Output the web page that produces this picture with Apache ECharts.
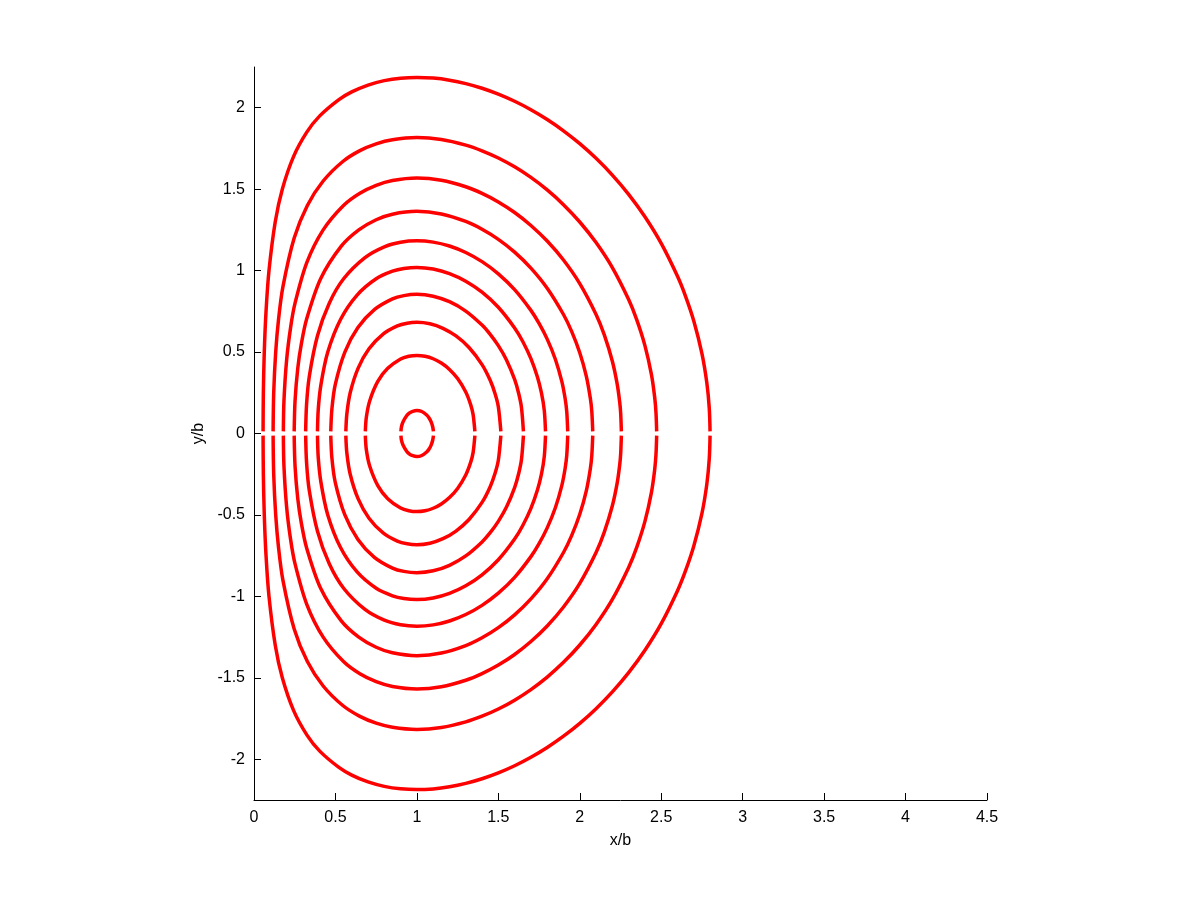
<!DOCTYPE html>
<html><head><meta charset="utf-8">
<script src="https://cdn.jsdelivr.net/npm/echarts@6/dist/echarts.min.js"></script>
<style>html,body{margin:0;padding:0;background:#fff}#c{width:1200px;height:900px}</style>
</head><body><div id="c"></div>
<script>
// tick labels
const xTicks = [0, 0.5, 1, 1.5, 2, 2.5, 3, 3.5, 4, 4.5];
const yTicks = [-2, -1.5, -1, -0.5, 0, 0.5, 1, 1.5, 2];

// upper halves of the closed contours, [x/b, y/b] (outermost first)
const c1 = [[0.0557,0.013],[0.0574,0.25],[0.0631,0.5],[0.0739,0.75],[0.0920,1.0],[0.1305,1.3],[0.1738,1.5],[0.2427,1.7],[0.3242,1.85],[0.4036,1.95],[0.5213,2.05],[0.6,2.0972],[0.7,2.1393],[0.8,2.1665],[0.9,2.1816],[1.0,2.1863],[1.1,2.1819],[1.2,2.169],[1.3,2.1482],[1.4,2.1197],[1.5,2.0835],[1.6,2.0396],[1.7,1.9878],[1.8,1.9276],[1.9,1.8584],[2.0,1.7794],[2.1,1.6893],[2.2,1.5865],[2.3,1.4683],[2.4,1.3308],[2.5,1.1673],[2.6,0.9649],[2.65,0.8406],[2.7,0.6904],[2.75,0.4905],[2.78,0.3108],[2.795,0.1543],[2.7998,0.013]];
const c2 = [[0.1173,0.013],[0.1210,0.25],[0.1332,0.5],[0.1506,0.7],[0.1774,0.9],[0.2467,1.2],[0.3276,1.4],[0.4247,1.55],[0.5453,1.67],[0.65,1.7366],[0.75,1.7782],[0.85,1.8034],[1.0,1.8166],[1.15,1.8047],[1.3,1.7705],[1.4,1.7358],[1.5,1.6915],[1.6,1.6371],[1.7,1.572],[1.8,1.4952],[1.9,1.4049],[2.0,1.2985],[2.1,1.1721],[2.2,1.0183],[2.3,0.8221],[2.35,0.6974],[2.4,0.5394],[2.44,0.3611],[2.46,0.2209],[2.468,0.1256],[2.472,0.013]];
const c3 = [[0.1802,0.013],[0.1839,0.2],[0.2002,0.45],[0.2246,0.65],[0.2520,0.8],[0.3246,1.05],[0.4247,1.25],[0.5494,1.4],[0.65,1.4751],[0.75,1.5238],[0.85,1.5532],[1.0,1.5684],[1.15,1.5547],[1.3,1.5149],[1.4,1.4741],[1.5,1.4216],[1.6,1.3565],[1.7,1.2772],[1.8,1.1814],[1.9,1.0648],[2.0,0.9199],[2.1,0.7306],[2.15,0.607],[2.2,0.4438],[2.23,0.3017],[2.245,0.1934],[2.251,0.1257],[2.2553,0.013]];
const c4 = [[0.2467,0.013],[0.2520,0.2],[0.2687,0.4],[0.2906,0.55],[0.3224,0.7],[0.4091,0.95],[0.5358,1.15],[0.6432,1.25],[0.75,1.3122],[0.85,1.3463],[1.0,1.3638],[1.15,1.348],[1.3,1.3018],[1.4,1.2542],[1.5,1.1921],[1.6,1.1136],[1.7,1.0155],[1.8,0.892],[1.9,0.7306],[1.95,0.6271],[2.0,0.4962],[2.04,0.3524],[2.065,0.2145],[2.074,0.1323],[2.0795,0.013]];
const c5 = [[0.3171,0.013],[0.3228,0.18],[0.3394,0.35],[0.3897,0.6],[0.4621,0.8],[0.5502,0.95],[0.6813,1.08],[0.8,1.1462],[0.9,1.1744],[1.0,1.1832],[1.1,1.175],[1.2,1.1509],[1.3,1.1112],[1.4,1.055],[1.5,0.9803],[1.6,0.8832],[1.7,0.7558],[1.75,0.6759],[1.8,0.5793],[1.85,0.4561],[1.89,0.318],[1.91,0.2147],[1.92,0.1349],[1.926,0.013]];
const c6 = [[0.3897,0.013],[0.3946,0.15],[0.4110,0.3],[0.4529,0.5],[0.5312,0.7],[0.6329,0.85],[0.75,0.95],[0.85,0.9962],[0.92,1.0133],[1.0,1.0198],[1.1,1.0103],[1.2,0.9821],[1.3,0.9353],[1.4,0.8678],[1.5,0.7752],[1.6,0.6481],[1.65,0.5649],[1.7,0.4596],[1.74,0.3467],[1.765,0.2474],[1.782,0.1417],[1.7896,0.013]];
const c7 = [[0.4713,0.013],[0.4782,0.15],[0.4988,0.3],[0.5578,0.5],[0.638,0.65],[0.739,0.76],[0.85,0.8261],[0.92,0.8466],[1.0,0.8544],[1.1,0.843],[1.2,0.8091],[1.3,0.7515],[1.4,0.6656],[1.45,0.6088],[1.5,0.5394],[1.55,0.4518],[1.6,0.3317],[1.625,0.2457],[1.642,0.1601],[1.654,0.013]];
const c8 = [[0.5638,0.013],[0.570,0.12],[0.5906,0.25],[0.6388,0.4],[0.706,0.52],[0.7926,0.61],[0.88,0.6603],[0.94,0.6772],[1.0,0.6826],[1.08,0.6735],[1.16,0.6459],[1.24,0.5988],[1.32,0.528],[1.4,0.4231],[1.45,0.3265],[1.48,0.2441],[1.5,0.1643],[1.5155,0.013]];
const c9 = [[0.6835,0.013],[0.6897,0.1],[0.7102,0.2],[0.76,0.32],[0.821,0.4],[0.9,0.4574],[0.95,0.4741],[1.0,0.4796],[1.05,0.4743],[1.1,0.4589],[1.15,0.4324],[1.2,0.3932],[1.25,0.3372],[1.3,0.2546],[1.33,0.1775],[1.345,0.1174],[1.356,0.013]];
const c10 = [[0.902,0.013],[0.9052,0.04],[0.9146,0.07],[0.9381,0.11],[0.955,0.1261],[0.97,0.1348],[1.0,0.1414],[1.03,0.135],[1.06,0.1138],[1.075,0.095],[1.0881,0.07],[1.0973,0.04],[1.1016,0.013]];

const contours = [c1, c2, c3, c4, c5, c6, c7, c8, c9, c10];

const lineStyle = { color: '#ff0000', width: 3.5, cap: 'butt' };
const series = [];
contours.forEach(function (pts) {
  series.push({ type: 'line', data: pts, showSymbol: false, symbol: 'none', smooth: 0.3, lineStyle: lineStyle, silent: true, z: 3 });
  // lower half: the figure is symmetric about y = 0
  series.push({ type: 'line', data: pts.map(function (p) { return [p[0], -p[1]]; }), showSymbol: false, symbol: 'none', smooth: 0.3, lineStyle: lineStyle, silent: true, z: 3 });
});

const font = { fontFamily: '"Liberation Sans", Arial, Helvetica, sans-serif', fontSize: 16, color: '#000' };

const chart = echarts.init(document.getElementById('c'), null, { renderer: 'canvas' });
chart.setOption({
  animation: false,
  backgroundColor: '#fff',
  grid: { left: 254, right: 213, top: 67, bottom: 100, containLabel: false, outerBoundsMode: 'none' },
  xAxis: {
    type: 'value', min: 0, max: 4.5, interval: 0.5,
    name: 'x/b', nameLocation: 'middle', nameGap: 33, nameTextStyle: font,
    axisLine: { onZero: false, lineStyle: { color: '#000', width: 1 } },
    axisTick: { inside: true, length: 7, lineStyle: { color: '#000' }, customValues: xTicks },
    axisLabel: Object.assign({ margin: 10, customValues: xTicks }, font),
    splitLine: { show: false }
  },
  yAxis: {
    type: 'value', min: -2.25, max: 2.25,
    name: 'y/b', nameLocation: 'middle', nameGap: 47, nameTextStyle: font,
    axisLine: { onZero: false, lineStyle: { color: '#000', width: 1 } },
    axisTick: { inside: true, length: 7, lineStyle: { color: '#000' }, customValues: yTicks },
    axisLabel: Object.assign({ margin: 9, customValues: yTicks }, font),
    splitLine: { show: false }
  },
  series: series
});
</script>
</body></html>
